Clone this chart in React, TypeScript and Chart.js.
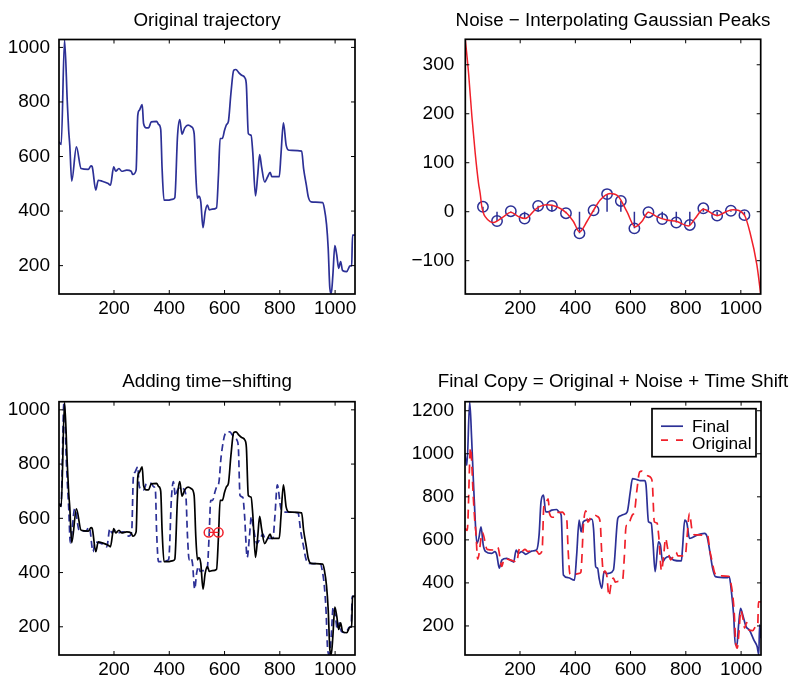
import React, { useEffect, useRef } from 'react';
import { Chart, registerables } from 'chart.js';

Chart.register(...registerables);

const FONT = '"Liberation Sans", Arial, Helvetica, sans-serif';
Chart.defaults.font.family = FONT;
Chart.defaults.color = '#000';

const BLUE = '#2c3096';
const RED = '#f0202a';
const BLACK = '#000000';

// ---- tick labels ----
const xTicks = [200, 400, 600, 800, 1000];
const trajTicks = [200, 400, 600, 800, 1000];
const noiseTicks = [-100, 0, 100, 200, 300];
const finalTicks = [200, 400, 600, 800, 1000, 1200];

// ---- original trajectory ----
const origX = [
  1, 9, 21, 31, 36, 40, 47, 64, 81, 107,
  117, 121, 134, 143, 156, 179, 187, 199, 206, 218,
  228, 246, 262, 268, 280, 286, 292, 302, 307, 317,
  325, 335, 354, 362, 369, 374, 381, 395, 414, 420,
  430, 438, 446, 456, 468, 480, 490, 496, 502, 507,
  514, 522, 530, 538, 545, 555, 571, 578, 584, 592,
  600, 607, 614, 623, 633, 641, 652, 662, 674, 679,
  686, 696, 702, 712, 720, 727, 734, 745, 756, 765,
  771, 798, 804, 813, 823, 834, 879, 886, 896, 903,
  913, 955, 961, 969, 975, 981, 986, 992, 999, 1006,
  1013, 1020, 1027, 1042, 1054, 1060, 1063, 1072,
];
const origY = [
  654, 644, 1028, 800, 696, 641, 510, 635, 556, 553,
  566, 563, 477, 513, 510, 501, 495, 562, 546, 556,
  546, 550, 546, 534, 550, 751, 770, 790, 721, 705,
  705, 727, 729, 717, 700, 556, 440, 440, 444, 449,
  678, 735, 682, 705, 715, 709, 684, 532, 447, 455,
  434, 339, 398, 422, 404, 407, 412, 532, 666, 666,
  696, 717, 729, 831, 916, 919, 907, 898, 888, 861,
  684, 678, 617, 456, 532, 607, 562, 507, 526, 542,
  526, 526, 605, 723, 641, 623, 620, 556, 495, 452,
  434, 431, 410, 351, 264, 117, 97, 166, 273, 239,
  190, 215, 182, 178, 199, 200, 312, 312,
];

// ---- time-shifted positions of the same samples (bottom-left dashed) ----
const shiftX = [
  1, 8, 19, 28, 33, 36, 42, 58, 74, 99,
  108, 112, 124, 132, 144, 166, 174, 185, 192, 203,
  213, 231, 246, 252, 264, 270, 276, 286, 291, 300,
  308, 317, 335, 343, 350, 354, 361, 374, 392, 398,
  408, 415, 422, 430, 441, 451, 460, 466, 472, 477,
  484, 492, 499, 506, 512, 521, 537, 544, 550, 557,
  565, 572, 579, 588, 605, 619, 628, 636, 645, 650,
  656, 666, 672, 682, 690, 697, 705, 717, 729, 739,
  746, 775, 782, 791, 803, 815, 866, 875, 886, 894,
  904, 947, 953, 961, 967, 973, 979, 986, 993, 1001,
  1008, 1015, 1023, 1039, 1052, 1058, 1062, 1072,
];

// ---- noise curve and Gaussian peaks ----
const noiseX = [
  1, 13, 25, 37, 49, 55, 61, 67, 73, 91,
  103, 140, 166, 194, 218, 260, 297, 333, 369, 393,
  415, 442, 466, 490, 526, 556, 587, 617, 641, 665,
  695, 732, 768, 810, 834, 864, 914, 950, 973, 1013,
  1033, 1058, 1072,
];
const noiseY = [
  352, 282, 194, 119, 58, 37, 10, -3, -10, -20,
  -22, -10, -1, -10, -14, 7, 14, 10, -3, -20,
  -41, -20, 3, 24, 37, 31, 0, -31, -20, -1,
  -10, -17, -20, -29, -14, 5, -8, 1, 4, -7,
  -42, -108, -168,
];
const peakX = [65, 116, 166, 216, 265, 315, 366, 415, 466, 515, 565, 614, 665, 715, 766, 815, 864, 914, 964, 1013];
const peakY = [10, -19, 1, -14, 12, 12, -3, -44, 3, 36, 22, -34, -1, -15, -22, -27, 7, -8, 2, -7];

// ---- marked correspondence points (bottom-left red circles) ----
const markX = [543, 578];
const markY = [548, 548];

// ---- final copy ----
const finalX = [
  1, 8, 18, 25, 31, 37, 44, 51, 59, 67,
  76, 97, 109, 116, 125, 134, 152, 170, 177, 186,
  194, 206, 221, 242, 260, 269, 276, 285, 293, 302,
  315, 333, 341, 349, 357, 375, 397, 405, 414, 421,
  429, 442, 460, 466, 474, 481, 486, 496, 504, 514,
  523, 538, 554, 562, 575, 588, 599, 607, 623, 635,
  651, 656, 665, 675, 681, 689, 701, 708, 716, 725,
  738, 756, 784, 788, 796, 804, 813, 822, 840, 868,
  877, 889, 897, 907, 949, 957, 965, 973, 979, 985,
  991, 998, 1006, 1018, 1030, 1046, 1058, 1064, 1067, 1072,
];
const finalY = [
  1001, 947, 1241, 1071, 885, 715, 584, 607, 661, 576,
  545, 537, 545, 530, 468, 506, 514, 502, 497, 553,
  537, 545, 533, 548, 553, 622, 777, 808, 730, 730,
  738, 741, 730, 715, 437, 424, 413, 529, 692, 637,
  684, 692, 696, 653, 475, 468, 424, 375, 452, 443,
  445, 460, 700, 711, 718, 730, 823, 885, 880, 875,
  875, 854, 684, 677, 591, 452, 591, 576, 498, 514,
  522, 506, 502, 560, 692, 677, 607, 610, 622, 630,
  614, 529, 468, 429, 424, 429, 359, 251, 112, 115,
  205, 282, 251, 197, 181, 135, 104, 66, 205, 143,
];

const pts = (xs: number[], ys: number[]) => xs.map((x, i) => ({ x, y: ys[i] }));
const fmt = (v: any) => String(v).replace('-', '\u2212');

const TITLE_SIZE = 18.8;
const TICK_SIZE = 19;

const framePlugin = {
  id: 'matlabFrame',
  afterDatasetsDraw(chart: any) {
    const { ctx, chartArea: a, scales } = chart;
    const tl = 4;
    ctx.save();
    ctx.strokeStyle = '#000';
    ctx.lineWidth = 1;
    ctx.beginPath();
    scales.x.ticks.forEach((t: any) => {
      const p = scales.x.getPixelForValue(t.value);
      ctx.moveTo(p, a.bottom);
      ctx.lineTo(p, a.bottom - tl);
      ctx.moveTo(p, a.top);
      ctx.lineTo(p, a.top + tl);
    });
    scales.y.ticks.forEach((t: any) => {
      const p = scales.y.getPixelForValue(t.value);
      ctx.moveTo(a.left, p);
      ctx.lineTo(a.left + tl, p);
      ctx.moveTo(a.right, p);
      ctx.lineTo(a.right - tl, p);
    });
    ctx.stroke();
    ctx.lineWidth = 1.7;
    ctx.strokeRect(a.left, a.top, a.right - a.left, a.bottom - a.top);
    ctx.restore();
  },
};

// axes title centred over the plot box (may overflow it, like the original)
const axTitlePlugin = {
  id: 'axTitle',
  afterDraw(chart: any, _args: any, opts: any) {
    const { ctx, chartArea: a } = chart;
    ctx.save();
    ctx.font = `${TITLE_SIZE}px ${FONT}`;
    ctx.fillStyle = '#000';
    ctx.textAlign = 'center';
    ctx.textBaseline = 'alphabetic';
    ctx.fillText(opts.text, (a.left + a.right) / 2, a.top - opts.gap);
    ctx.restore();
  },
};

const boxLegendPlugin = {
  id: 'boxLegend',
  afterDraw(chart: any) {
    const { ctx, chartArea: a } = chart;
    const items = chart.data.datasets.filter((d: any) => d.label);
    const w = 104;
    const h = 48;
    const x0 = a.right - 5 - w;
    const y0 = a.top + 7;
    ctx.save();
    ctx.fillStyle = '#fff';
    ctx.fillRect(x0, y0, w, h);
    ctx.strokeStyle = '#000';
    ctx.lineWidth = 1.7;
    ctx.strokeRect(x0, y0, w, h);
    ctx.font = `17.3px ${FONT}`;
    ctx.textBaseline = 'alphabetic';
    ctx.textAlign = 'left';
    items.forEach((d: any, i: number) => {
      const base = y0 + 23.5 + i * 16.6;
      const cy = y0 + 17.5 + i * 14;
      ctx.strokeStyle = d.borderColor;
      ctx.lineWidth = d.borderWidth;
      ctx.setLineDash(d.borderDash ? [7, 8] : []);
      ctx.beginPath();
      ctx.moveTo(x0 + 9, cy);
      ctx.lineTo(x0 + 31, cy);
      ctx.stroke();
      ctx.setLineDash([]);
      ctx.fillStyle = '#000';
      ctx.fillText(d.label, x0 + 40, base);
    });
    ctx.restore();
  },
};

type P = {
  title: string;
  gap: number;
  yMin: number;
  yMax: number;
  yTicks: number[];
  yWidth: number;
  yPad: number;
  padTop: number;
  padRight: number;
  padBottom: number;
  xHeight: number;
};

function makeOptions(p: P) {
  return {
    responsive: false,
    animation: false,
    events: [],
    layout: { padding: { left: 0, top: p.padTop, right: p.padRight, bottom: p.padBottom } },
    elements: { point: { radius: 0, hoverRadius: 0 }, line: { tension: 0 } },
    plugins: {
      legend: { display: false },
      tooltip: { enabled: false },
      title: { display: false },
      axTitle: { text: p.title, gap: p.gap },
    },
    scales: {
      x: {
        type: 'linear',
        min: 1,
        max: 1072,
        offset: false,
        grid: { display: false, drawTicks: false },
        border: { display: false },
        ticks: { color: '#000', font: { size: TICK_SIZE, family: FONT }, padding: 3, autoSkip: false, maxRotation: 0, callback: fmt },
        afterBuildTicks: (s: any) => {
          s.ticks = xTicks.map((v) => ({ value: v }));
        },
        afterFit: (s: any) => {
          s.height = p.xHeight;
        },
      },
      y: {
        type: 'linear',
        min: p.yMin,
        max: p.yMax,
        grid: { display: false, drawTicks: false },
        border: { display: false },
        ticks: { color: '#000', font: { size: TICK_SIZE, family: FONT }, padding: p.yPad, autoSkip: false, callback: fmt },
        afterBuildTicks: (s: any) => {
          s.ticks = p.yTicks.map((v) => ({ value: v }));
        },
        afterFit: (s: any) => {
          s.width = p.yWidth;
        },
      },
    },
  };
}

const LW = 1.7;

function cfgOriginal(): any {
  return {
    type: 'line',
    data: {
      datasets: [
        { data: pts(origX, origY), borderColor: BLUE, borderWidth: LW, pointRadius: 0, cubicInterpolationMode: 'monotone' },
      ],
    },
    options: makeOptions({
      title: 'Original trajectory', gap: 13.3, yMin: 96, yMax: 1029, yTicks: trajTicks,
      yWidth: 59, yPad: 9, padTop: 39.5, padRight: 42, padBottom: 16, xHeight: 30,
    }),
    plugins: [framePlugin, axTitlePlugin],
  };
}

function cfgNoise(): any {
  const stems = peakX.flatMap((x, i) => [{ x, y: 0 }, { x, y: peakY[i] }, { x, y: null }]);
  return {
    type: 'line',
    data: {
      datasets: [
        { data: pts(noiseX, noiseY), borderColor: RED, borderWidth: 1.5, pointRadius: 0, cubicInterpolationMode: 'monotone', order: 1 },
        { data: stems, borderColor: BLUE, borderWidth: 1.5, pointRadius: 0, spanGaps: false, order: 3 },
        {
          data: pts(peakX, peakY), showLine: false, pointRadius: 5.2, pointStyle: 'circle',
          pointBorderColor: BLUE, pointBackgroundColor: 'rgba(0,0,0,0)', pointBorderWidth: 1.5, borderColor: BLUE, order: 2,
        },
      ],
    },
    options: makeOptions({
      title: 'Noise \u2212 Interpolating Gaussian Peaks', gap: 13.3, yMin: -168, yMax: 352, yTicks: noiseTicks,
      yWidth: 68.3, yPad: 11, padTop: 39.3, padRight: 33.3, padBottom: 16, xHeight: 30,
    }),
    plugins: [framePlugin, axTitlePlugin],
  };
}

function cfgShift(): any {
  return {
    type: 'line',
    data: {
      datasets: [
        { data: pts(origX, origY), borderColor: BLACK, borderWidth: LW, pointRadius: 0, cubicInterpolationMode: 'monotone', order: 2 },
        { data: pts(shiftX, origY), borderColor: BLUE, borderWidth: LW, borderDash: [7, 4], pointRadius: 0, cubicInterpolationMode: 'monotone', order: 3 },
        {
          data: pts(markX, markY), borderColor: RED, borderWidth: 1.4, pointRadius: 4.6, pointStyle: 'circle',
          pointBorderColor: RED, pointBackgroundColor: 'rgba(0,0,0,0)', pointBorderWidth: 1.5, order: 1,
        },
      ],
    },
    options: makeOptions({
      title: 'Adding time\u2212shifting', gap: 14.8, yMin: 96, yMax: 1030, yTicks: trajTicks,
      yWidth: 59, yPad: 9, padTop: 61.7, padRight: 42, padBottom: 2, xHeight: 24,
    }),
    plugins: [framePlugin, axTitlePlugin],
  };
}

function cfgFinal(): any {
  return {
    type: 'line',
    data: {
      datasets: [
        { label: 'Final', data: pts(finalX, finalY), borderColor: BLUE, borderWidth: LW, pointRadius: 0, cubicInterpolationMode: 'monotone', order: 2 },
        { label: 'Original', data: pts(origX, origY), borderColor: RED, borderWidth: LW, borderDash: [9, 6], pointRadius: 0, cubicInterpolationMode: 'monotone', order: 1 },
      ],
    },
    options: makeOptions({
      title: 'Final Copy = Original + Noise + Time Shift', gap: 14.6, yMin: 65, yMax: 1242, yTicks: finalTicks,
      yWidth: 68, yPad: 11, padTop: 61.7, padRight: 33, padBottom: 2, xHeight: 24,
    }),
    plugins: [framePlugin, axTitlePlugin, boxLegendPlugin],
  };
}

function Panel({ left, top, w, h, make }: { left: number; top: number; w: number; h: number; make: () => any }) {
  const ref = useRef<HTMLCanvasElement>(null);
  useEffect(() => {
    const chart = new Chart(ref.current as HTMLCanvasElement, make());
    return () => chart.destroy();
  }, [make]);
  return (
    <canvas
      ref={ref}
      width={w}
      height={h}
      style={{ position: 'absolute', left, top, width: w, height: h, display: 'block' }}
    />
  );
}

export default function App() {
  return (
    <div style={{ position: 'absolute', left: 0, top: 0, width: 794, height: 681, background: '#fff', overflow: 'hidden' }}>
      <Panel left={0} top={0} w={397} h={340} make={cfgOriginal} />
      <Panel left={397} top={0} w={397} h={340} make={cfgNoise} />
      <Panel left={0} top={340} w={397} h={341} make={cfgShift} />
      <Panel left={397} top={340} w={397} h={341} make={cfgFinal} />
    </div>
  );
}
